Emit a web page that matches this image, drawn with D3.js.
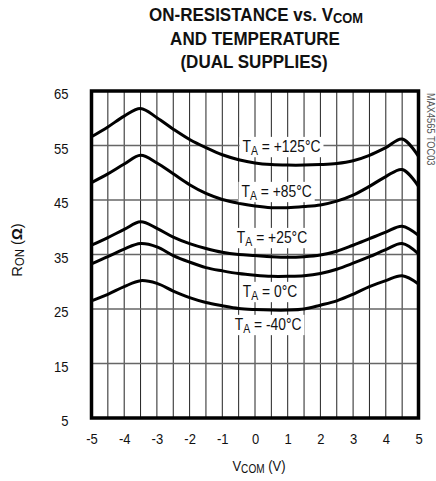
<!DOCTYPE html>
<html>
<head>
<meta charset="utf-8">
<script src="https://cdn.jsdelivr.net/npm/d3@7"></script>
<style>
  body { margin: 0; background: #fff; }
  text { font-family: "Liberation Sans", Arial, sans-serif; fill: #111; }
</style>
</head>
<body>
<svg id="chart" width="436" height="481"></svg>
<script>

// V_COM sample points (V)
const vcom = [-5, -4.5, -4, -3.5, -3, -2.5, -2, -1.5, -1, -0.5, 0, 0.5, 1, 1.5, 2, 2.5, 3, 3.5, 4, 4.5, 5]

// R_ON (ohms) per temperature
const r125 = [56.6, 58.4, 60.4, 61.8, 60.1, 58.0, 56.1, 54.6, 53.3, 52.4, 51.8, 51.5, 51.4, 51.4, 51.5, 51.7, 52.2, 53.2, 54.6, 56.2, 53.0]
const r85 = [48.2, 49.8, 51.6, 53.2, 51.8, 49.8, 47.8, 46.2, 45.1, 44.4, 43.9, 43.6, 43.6, 43.8, 44.1, 44.8, 45.9, 47.5, 49.3, 50.6, 47.5]
const r25 = [36.7, 38.1, 39.6, 41.0, 39.8, 38.2, 37.0, 36.1, 35.4, 35.0, 34.8, 34.6, 34.5, 34.6, 34.9, 35.6, 36.7, 37.9, 39.1, 40.2, 38.5]
const r0 = [33.3, 34.6, 36.0, 37.0, 36.4, 34.8, 33.6, 32.6, 32.0, 31.5, 31.2, 31.0, 31.0, 31.1, 31.5, 32.3, 33.4, 34.6, 35.9, 37.0, 35.1]
const rm40 = [26.5, 27.7, 29.1, 30.2, 29.7, 28.3, 27.1, 26.2, 25.6, 25.1, 24.9, 24.8, 24.8, 25.0, 25.7, 26.5, 27.7, 29.1, 30.2, 31.1, 29.6]

const series = [r125, r85, r25, r0, rm40]

// curve labels, anchored in data units (centre x, baseline y)
const tempLabels = ["+125°C", "+85°C", "+25°C", "0°C", "-40°C"]
const labelV = [0.81, 0.66, 0.52, 0.46, 0.40]
const labelR = [53.8, 45.55, 37.1, 27.2, 21.15]

const xTicks = [-5, -4, -3, -2, -1, 0, 1, 2, 3, 4, 5]
const yTicks = [5, 15, 25, 35, 45, 55, 65]

const svg = d3.select("#chart")

const plotL = 91.5, plotR = 418.5, plotT = 91, plotB = 418
const narrow = 0.84   // squeeze to look like the condensed face of the original

const x = d3.scaleLinear().domain([-5, 5]).range([plotL, plotR])
const y = d3.scaleLinear().domain([5, 65]).range([plotB, plotT])

// text placed by transform so it can be squeezed horizontally
function ntext(parent, tx, ty, extra, sx) {
  return parent.append("text")
    .attr("transform", `translate(${tx},${ty}) ${extra || ""} scale(${sx || narrow},1)`)
}

// title
const title = svg.append("g")
  .attr("text-anchor", "middle")
  .style("font-weight", "bold")
  .style("font-size", "18.5px")

const t1 = ntext(title, 256, 21, "", 0.92)
t1.append("tspan").text("ON-RESISTANCE vs. V")
t1.append("tspan").text("COM").style("font-size", "14px").attr("dy", 2)
ntext(title, 255, 45, "", 0.92).text("AND TEMPERATURE")
ntext(title, 254, 68, "", 0.92).text("(DUAL SUPPLIES)")

// grid
const grid = svg.append("g")

grid.selectAll(".vgrid")
  .data(d3.range(-4.5, 5, 0.5))
  .join("line")
  .attr("x1", d => x(d))
  .attr("x2", d => x(d))
  .attr("y1", plotT)
  .attr("y2", plotB)
  .attr("stroke", "#222")
  .attr("stroke-width", 1)

grid.selectAll(".hgrid")
  .data(yTicks.slice(1, -1))
  .join("line")
  .attr("x1", plotL)
  .attr("x2", plotR)
  .attr("y1", d => y(d))
  .attr("y2", d => y(d))
  .attr("stroke", "#666")
  .attr("stroke-width", 1.5)

// curves
const line = d3.line()
  .x((d, i) => x(vcom[i]))
  .y(d => y(d))
  .curve(d3.curveCatmullRom.alpha(0.5))

svg.append("g")
  .selectAll("path")
  .data(series)
  .join("path")
  .attr("d", d => line(d))
  .attr("fill", "none")
  .attr("stroke", "#000")
  .attr("stroke-width", 3)

// curve labels with white boxes
const labels = svg.append("g")

tempLabels.forEach((lab, i) => {
  const g = labels.append("g")
  const txt = ntext(g, x(labelV[i]), y(labelR[i]))
    .attr("text-anchor", "middle")
    .style("font-size", "16.5px")
  txt.append("tspan").text("T")
  txt.append("tspan").text("A").style("font-size", "12.5px").attr("dy", 3)
  txt.append("tspan").text(" = " + lab).attr("dy", -3)
  const bb = txt.node().getBBox()
  g.insert("rect", "text")
    .attr("x", x(labelV[i]) + bb.x * narrow - 3)
    .attr("y", y(labelR[i]) + bb.y)
    .attr("width", bb.width * narrow + 6)
    .attr("height", bb.height)
    .attr("fill", "#fff")
})

// frame
svg.append("rect")
  .attr("x", plotL)
  .attr("y", plotT)
  .attr("width", plotR - plotL)
  .attr("height", plotB - plotT)
  .attr("fill", "none")
  .attr("stroke", "#000")
  .attr("stroke-width", 3.5)

// axes
const xAxis = svg.append("g")
  .attr("transform", `translate(0,${plotB + 15})`)
  .call(d3.axisBottom(x).tickValues(xTicks).tickSize(0).tickPadding(0).tickFormat(d => String(d)))
xAxis.attr("font-family", null).attr("font-size", null)
xAxis.select(".domain").remove()
xAxis.selectAll("text")
  .style("font-size", "15.5px")
  .attr("fill", "#111")
  .attr("transform", `scale(${narrow},1)`)

const yAxis = svg.append("g")
  .attr("transform", `translate(${plotL - 23},3)`)
  .call(d3.axisLeft(y).tickValues(yTicks).tickSize(0).tickPadding(0))
yAxis.attr("font-family", null).attr("font-size", null)
yAxis.select(".domain").remove()
yAxis.selectAll("text")
  .style("font-size", "15.5px")
  .attr("fill", "#111")
  .attr("transform", `scale(${narrow},1)`)

// axis titles
const xt = ntext(svg, 259, 471)
  .attr("text-anchor", "middle")
  .style("font-size", "15.5px")
xt.append("tspan").text("V")
xt.append("tspan").text("COM").style("font-size", "12px").attr("dy", 2)
xt.append("tspan").text(" (V)").attr("dy", -2)

const yt = ntext(svg, 22, 250, "rotate(-90)", 0.95)
  .attr("text-anchor", "middle")
  .style("font-size", "15.5px")
yt.append("tspan").text("R")
yt.append("tspan").text("ON").style("font-size", "12px").attr("dy", 2)
yt.append("tspan").text(" (").attr("dy", -2)
yt.append("tspan").text("Ω").style("font-weight", "bold")
yt.append("tspan").text(")")

// part number tag
ntext(svg, 427, 93, "rotate(90)")
  .attr("text-anchor", "start")
  .style("font-size", "11px")
  .style("fill", "#555")
  .text("MAX4565 TOC03")

</script>
</body>
</html>
